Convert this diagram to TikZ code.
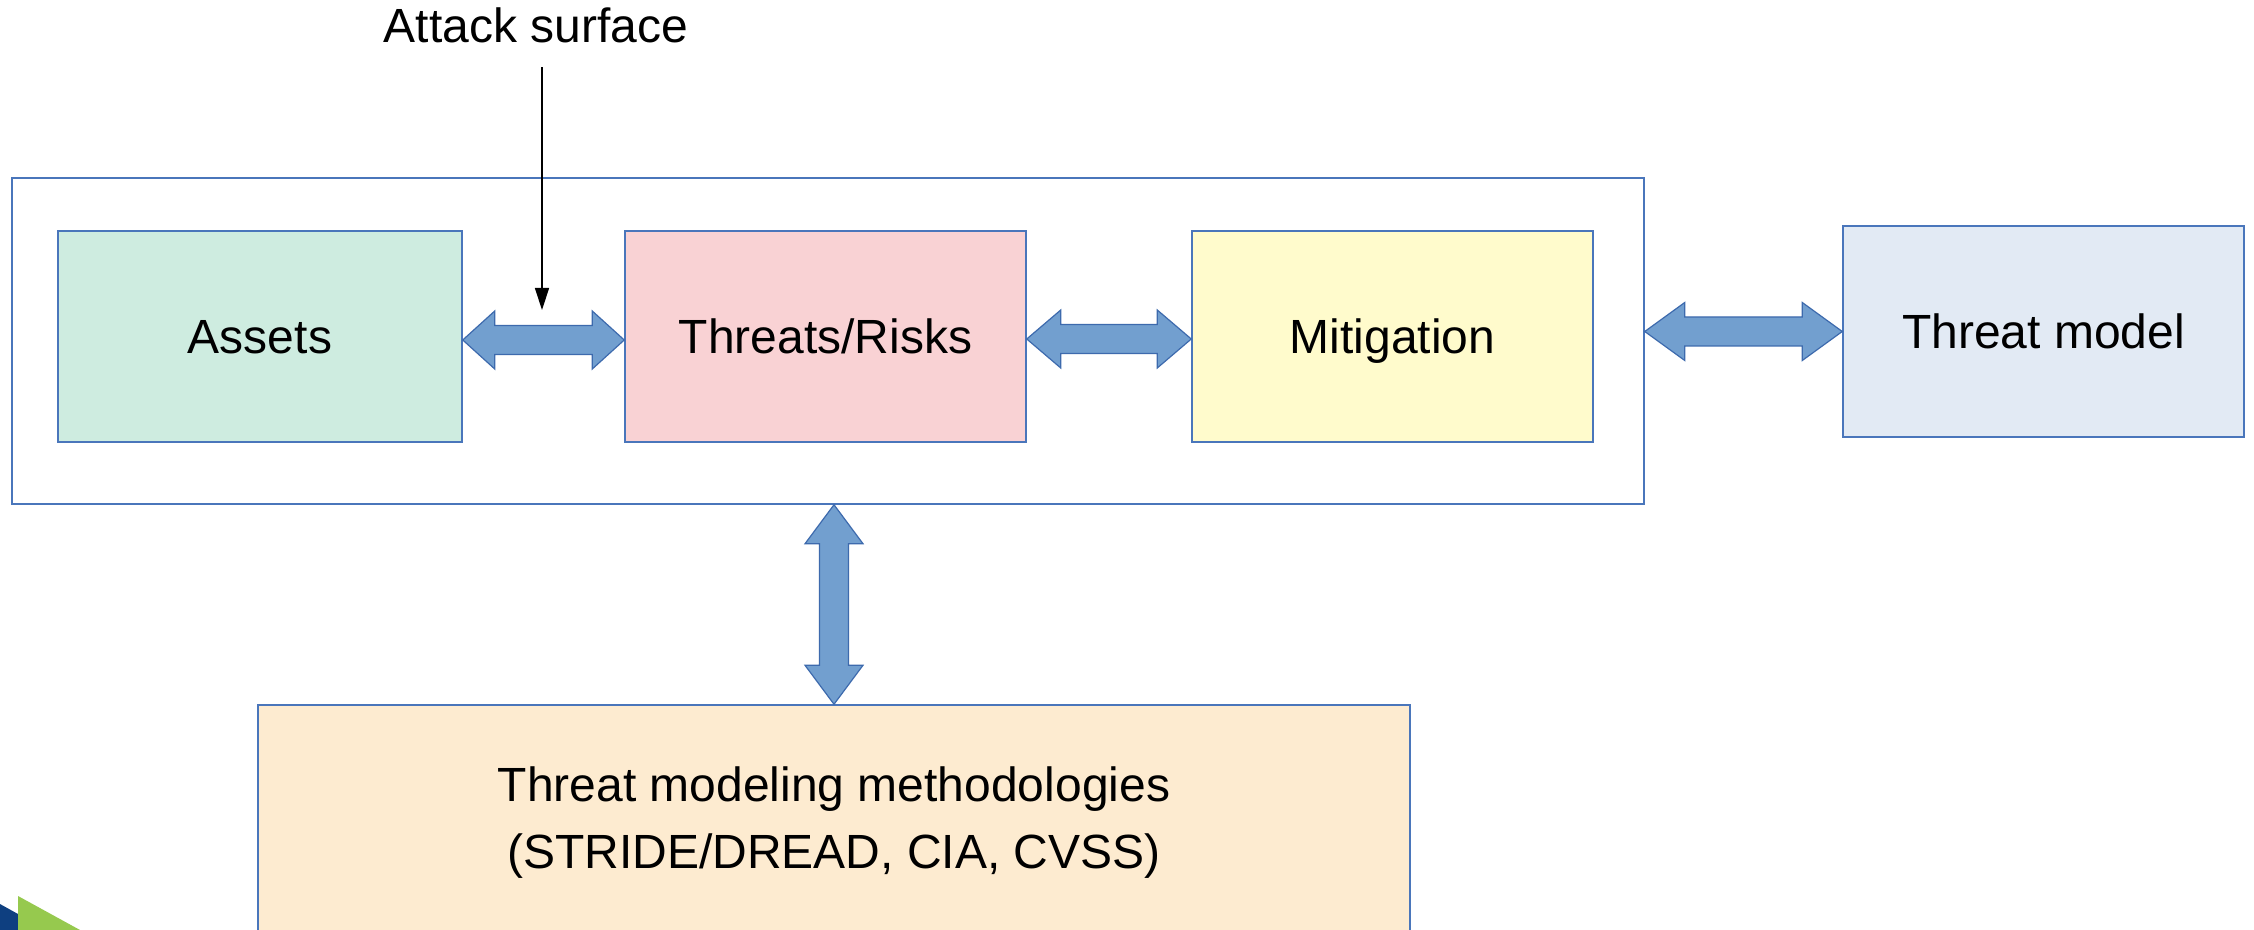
\documentclass[tikz,border=0pt]{standalone}
\usepackage{fontspec}
\setmainfont{Liberation Sans}
\usetikzlibrary{calc,arrows.meta}
\definecolor{boxline}{HTML}{4A76BB}
\definecolor{arrfill}{HTML}{729FCF}
\definecolor{arrline}{HTML}{3D6AAD}
\definecolor{cassets}{HTML}{CEECE0}
\definecolor{cthreat}{HTML}{F9D2D4}
\definecolor{cmitig}{HTML}{FFFBCC}
\definecolor{ctm}{HTML}{E2EAF4}
\definecolor{cmeth}{HTML}{FDEBD0}
\definecolor{logogreen}{HTML}{96C94E}
\definecolor{logoblue}{HTML}{0E3F80}
\tikzset{
  box/.style={draw=boxline, line width=0.75pt, inner sep=0pt, minimum width=200.5pt, minimum height=105.5pt,
    font=\fontsize{24}{28}\selectfont, text height=16.9pt, text depth=0pt},
  fat/.style={draw=arrline, fill=arrfill, line width=0.6pt, line join=miter},
  thin/.style={draw=black, line width=0.7pt, -{Triangle[width=7pt,length=11pt]}},
}
\newcommand\fatH[3]{\draw[fat] let \p1=(#1), \p2=(#2) in
  (\x1,\y1) -- (\x1+#3,\y1+14.5pt) -- (\x1+#3,\y1+7.25pt) -- (\x2-#3,\y1+7.25pt) -- (\x2-#3,\y1+14.5pt)
  -- (\x2,\y1) -- (\x2-#3,\y1-14.5pt) -- (\x2-#3,\y1-7.25pt) -- (\x1+#3,\y1-7.25pt) -- (\x1+#3,\y1-14.5pt) -- cycle;}
\newcommand\fatV[3]{\draw[fat] let \p1=(#1), \p2=(#2) in
  (\x1,\y1) -- (\x1+14.5pt,\y1-#3) -- (\x1+7.25pt,\y1-#3) -- (\x1+7.25pt,\y2+#3) -- (\x1+14.5pt,\y2+#3)
  -- (\x1,\y2) -- (\x1-14.5pt,\y2+#3) -- (\x1-7.25pt,\y2+#3) -- (\x1-7.25pt,\y1-#3) -- (\x1-14.5pt,\y1-#3) -- cycle;}
\begin{document}
\begin{tikzpicture}[x=0.5pt,y=-0.5pt]
\clip (0,0) rectangle (2254,930);
\fill[white] (0,0) rectangle (2254,930);

% outer frame
\node[draw=boxline, line width=0.75pt, inner sep=0pt, minimum width=816pt, minimum height=163pt] (outer) at (828,341) {};

% boxes
\node[box, fill=cassets, minimum width=202pt] (assets) at (260,336.5) {Assets};
\node[box, fill=cthreat] (threats) at (825.5,336.5) {Threats/Risks};
\node[box, fill=cmitig] (mitig) at (1392.5,336.5) {Mitigation};
\node[box, fill=ctm] (tm) at (2043.5,331.5) {Threat model};
\node[draw=boxline, line width=0.75pt, fill=cmeth, inner sep=0pt, minimum width=576pt, minimum height=118pt,
  align=center, font=\fontsize{24}{33.5}\selectfont] (meth) at (834,823)
  {Threat modeling methodologies\\(STRIDE/DREAD, CIA, CVSS)};

% attack surface
\node[inner sep=0pt, font=\fontsize{24}{28}\selectfont, text height=16.9pt, text depth=0pt] (attack) at (536,26) {Attack surface};
\coordinate (surf) at (542,310);

% fat double arrows
\fatH{[yshift=-1.75pt]assets.east}{[yshift=-1.75pt]threats.west}{16pt}
\fatH{[yshift=-1.25pt]threats.east}{[yshift=-1.25pt]mitig.west}{17pt}
\fatH{outer.east |- tm.west}{tm.west}{20pt}
\fatV{meth.north |- outer.south}{meth.north}{19.5pt}

% attack surface arrow
\draw[thin] ([yshift=-12pt]attack.south -| surf) -- (surf);

% logo
\fill[logoblue] (0,904) -- (36,924) -- (36,930) -- (0,930) -- cycle;
\fill[logogreen] (18,896) -- (80,930) -- (18,930) -- cycle;
\end{tikzpicture}
\end{document}
